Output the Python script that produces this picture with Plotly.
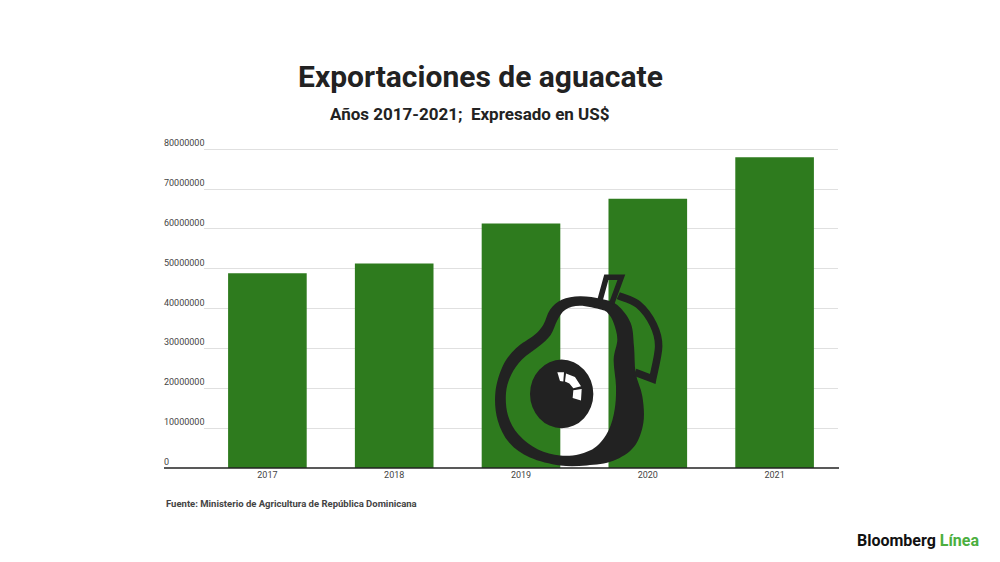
import plotly.graph_objects as go

anios = ['2017', '2018', '2019', '2020', '2021']
exportaciones = [48900000, 51300000, 61400000, 67600000, 78000000]
ticks_y = [0, 10000000, 20000000, 30000000, 40000000, 50000000, 60000000, 70000000, 80000000]

ANCHO, ALTO = 1000, 562
IZQ, DER, ARRIBA, ABAJO = 204, 838, 148.2, 468.5
TOPE_Y = 80320000
VERDE = '#2e7b1e'
NEGRO = '#222222'

# contornos del icono, en pixeles del recorte 3x de la imagen
cuerpo_ext = [(365, 118), (300, 110), (245, 120), (210, 150), (190, 195), (163, 226), (108, 266), (68, 320),
              (46, 400), (53, 482), (88, 550), (150, 594), (240, 618), (320, 618), (400, 604), (462, 562),
              (490, 490), (487, 410), (467, 340), (462, 260), (452, 190), (412, 136)]
cuerpo_int = [(365, 150), (300, 138), (256, 150), (232, 182), (212, 226), (176, 261), (126, 300), (94, 345),
              (78, 400), (84, 468), (116, 526), (174, 570), (240, 588), (298, 584), (348, 562), (386, 512),
              (404, 450), (408, 380), (401, 300), (412, 240), (401, 190), (385, 162)]
hueso_x = [150, 340]
hueso_y = [300, 506]
brillo1 = [(232, 338), (252, 338), (250, 366), (240, 364)]
brillo2 = [(258, 342), (285, 352), (303, 380), (280, 386), (268, 372), (255, 366)]
brillo3 = [(280, 392), (305, 388), (303, 423), (278, 415)]
hoja = [(415, 108), (475, 135), (520, 195), (536, 260), (518, 358)]
hoja_base = (465, 338)
tallo = [(360, 122), (379, 53), (424, 53), (395, 132)]


def px(p):
    x = 480 + p[0] / 3
    y = 260 + p[1] / 3
    return (x - IZQ) / (DER - IZQ), (ABAJO - y) / (ABAJO - ARRIBA)


def suave(puntos):
    # curva cerrada pasando por los puntos
    pts = [px(p) for p in puntos]
    n = len(pts)
    d = 'M%.5f,%.5f ' % pts[0]
    for i in range(n):
        p0, p1, p2, p3 = pts[i - 1], pts[i], pts[(i + 1) % n], pts[(i + 2) % n]
        c1 = (p1[0] + (p2[0] - p0[0]) / 6, p1[1] + (p2[1] - p0[1]) / 6)
        c2 = (p2[0] - (p3[0] - p1[0]) / 6, p2[1] - (p3[1] - p1[1]) / 6)
        d += 'C%.5f,%.5f %.5f,%.5f %.5f,%.5f ' % (c1 + c2 + p2)
    return d + 'Z'


def abierta(puntos):
    # igual que suave pero sin cerrar, para la hoja
    pts = [px(p) for p in puntos]
    n = len(pts)
    d = 'M%.5f,%.5f ' % pts[0]
    for i in range(n - 1):
        p0, p1, p2, p3 = pts[max(i - 1, 0)], pts[i], pts[i + 1], pts[min(i + 2, n - 1)]
        c1 = (p1[0] + (p2[0] - p0[0]) / 6, p1[1] + (p2[1] - p0[1]) / 6)
        c2 = (p2[0] - (p3[0] - p1[0]) / 6, p2[1] - (p3[1] - p1[1]) / 6)
        d += 'C%.5f,%.5f %.5f,%.5f %.5f,%.5f ' % (c1 + c2 + p2)
    return d


def recto(puntos, cerrar=True):
    pts = [px(p) for p in puntos]
    d = 'M' + ' L'.join('%.5f,%.5f' % p for p in pts)
    return d + (' Z' if cerrar else '')


fig = go.Figure()
fig.add_trace(go.Bar(x=anios, y=exportaciones, marker=dict(color=VERDE, line=dict(width=0)), width=0.62))

hx0, hy0 = px((hueso_x[0], hueso_y[0]))
hx1, hy1 = px((hueso_x[1], hueso_y[1]))
formas = [
    dict(type='line', xref='paper', yref='paper', x0=(164 - IZQ) / (DER - IZQ), x1=(839 - IZQ) / (DER - IZQ), y0=0, y1=0,
         line=dict(color=NEGRO, width=1.3)),
    dict(type='path', xref='paper', yref='paper', path=suave(cuerpo_ext) + ' ' + suave(cuerpo_int),
         fillcolor=NEGRO, line=dict(width=0)),
    dict(type='circle', xref='paper', yref='paper', x0=hx0, x1=hx1, y0=hy0, y1=hy1,
         fillcolor=NEGRO, line=dict(width=0)),
    dict(type='path', xref='paper', yref='paper', path=recto(brillo1), fillcolor='white', line=dict(width=0)),
    dict(type='path', xref='paper', yref='paper', path=recto(brillo2), fillcolor='white', line=dict(width=0)),
    dict(type='path', xref='paper', yref='paper', path=recto(brillo3), fillcolor='white', line=dict(width=0)),
    dict(type='path', xref='paper', yref='paper', path=abierta(hoja) + 'L%.5f,%.5f' % px(hoja_base),
         line=dict(color=NEGRO, width=7.5)),
    dict(type='path', xref='paper', yref='paper', path=recto(tallo, False), line=dict(color=NEGRO, width=5.5)),
]

notas = []
for t in ticks_y:
    notas.append(dict(xref='paper', yref='y', x=(164 - IZQ) / (DER - IZQ), y=t, text=str(t), showarrow=False,
                      xanchor='left', yanchor='middle', yshift=6, xshift=-2,
                      font=dict(family='Roboto', size=9, color='#444444')))

textos = [
    ('Exportaciones de aguacate', 480, 77, 30, NEGRO, 'center'),
    ('Años 2017-2021;  Expresado en US$', 470, 114, 17, NEGRO, 'center'),
    ('Fuente: Ministerio de Agricultura de República Dominicana', 164, 504, 9.5, '#444444', 'left'),
    ('Bloomberg <span style="color:#4caf3f">Línea</span>', 855, 541.5, 16, '#111111', 'left'),
]
for txt, x, y, tam, color, anc in textos:
    notas.append(dict(xref='paper', yref='paper', x=(x - IZQ) / (DER - IZQ), y=(ABAJO - y) / (ABAJO - ARRIBA),
                      text='<b>' + txt + '</b>', showarrow=False, xanchor=anc, yanchor='middle',
                      font=dict(family='Roboto', size=tam, color=color)))

fig.update_layout(
    width=ANCHO, height=ALTO,
    margin=dict(l=IZQ, r=ANCHO - DER, t=ARRIBA, b=ALTO - ABAJO, autoexpand=False),
    paper_bgcolor='white', plot_bgcolor='white',
    showlegend=False,
    shapes=formas,
    annotations=notas,
    xaxis=dict(type='category', range=[-0.5, 4.5], showgrid=False, showline=False, ticks='',
               tickfont=dict(family='Roboto', size=9, color='#444444')),
    yaxis=dict(range=[0, TOPE_Y], tickvals=ticks_y, showticklabels=False, showgrid=True,
               gridcolor='#e0e0e0', gridwidth=1, zeroline=False, showline=False, ticks=''),
)

fig.write_html("out.html", post_script="document.body.style.margin='0';", config=dict(displayModeBar=False))
